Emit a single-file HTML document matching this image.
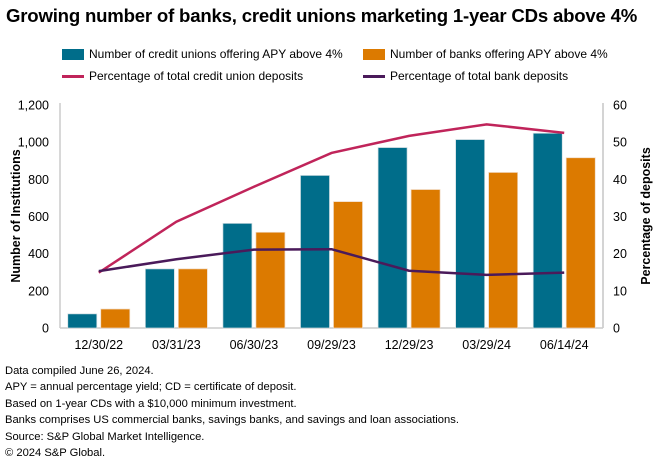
<!DOCTYPE html>
<html><head><meta charset="utf-8">
<style>
body{margin:0;background:#fff;font-family:"Liberation Sans",sans-serif;color:#000;}
#wrap{position:relative;width:660px;height:466px;overflow:hidden;}
.title{position:absolute;left:6px;top:5px;font-size:18.6px;font-weight:bold;letter-spacing:-0.2px;}
.leg{position:absolute;font-size:12px;display:flex;align-items:center;}
.sw{display:inline-block;width:22px;height:11px;margin-right:5px;}
.ln{display:inline-block;width:22px;height:3px;margin-right:5px;}
.notes{position:absolute;left:5px;top:363px;font-size:11.2px;line-height:16.4px;}
</style></head><body>
<div id="wrap">
<div class="title">Growing number of banks, credit unions marketing 1-year CDs above 4%</div>
<div class="leg" style="left:62px;top:47px"><span class="sw" style="background:#006d8a"></span>Number of credit unions offering APY above 4%</div>
<div class="leg" style="left:363px;top:47px"><span class="sw" style="background:#dc7a00"></span>Number of banks offering APY above 4%</div>
<div class="leg" style="left:62px;top:69px"><span class="ln" style="background:#c0245a"></span>Percentage of total credit union deposits</div>
<div class="leg" style="left:363px;top:69px"><span class="ln" style="background:#4a1a5a"></span>Percentage of total bank deposits</div>
<svg id="chart" width="660" height="466" style="position:absolute;left:0;top:0"></svg>
<div class="notes">Data compiled June 26, 2024.<br>APY = annual percentage yield; CD = certificate of deposit.<br>Based on 1-year CDs with a $10,000 minimum investment.<br>Banks comprises US commercial banks, savings banks, and savings and loan associations.<br>Source: S&amp;P Global Market Intelligence.<br>© 2024 S&amp;P Global.</div>
</div>
<script>
const categories=["12/30/22","03/31/23","06/30/23","09/29/23","12/29/23","03/29/24","06/14/24"];
const cuCounts=[76,318,563,821,971,1014,1048];
const bankCounts=[102,318,515,680,745,837,916];
const cuPct=[14.9,28.6,38,47.1,51.7,54.8,52.5];
const bankPct=[15.3,18.5,21.1,21.2,15.4,14.3,14.9];
const leftTicks=[0,200,400,600,800,1000,1200];
const rightTicks=[0,10,20,30,40,50,60];
const NS="http://www.w3.org/2000/svg";
const svg=document.getElementById('chart');
const X0=60,X1=603,Y0=328,Y1=105;
const gw=(X1-X0)/categories.length;
const yL=v=>Y0-(v/1200)*(Y0-Y1);
const yR=v=>Y0-(v/60)*(Y0-Y1);
const xc=i=>X0+gw*(i+0.5);
function mk(tag,attrs){const e=document.createElementNS(NS,tag);for(const k in attrs)e.setAttribute(k,attrs[k]);svg.appendChild(e);return e;}
let e;
e=mk('line',{x1:X0,y1:Y1-2,x2:X0,y2:Y0,stroke:'#ccc','stroke-width':1.5});


e=mk('line',{x1:X1,y1:Y1-2,x2:X1,y2:Y0,stroke:'#aaa','stroke-width':1});


e=mk('line',{x1:X0,y1:Y0,x2:X1,y2:Y0,stroke:'#ccc','stroke-width':1.5});


leftTicks.forEach(v=>{
 const t=mk('text',{x:49,y:yL(v)+4.5,'text-anchor':'end','font-size':'12.5'});t.textContent=v.toLocaleString('en-US');
 
 
});
rightTicks.forEach(v=>{
 const t=mk('text',{x:613,y:yR(v)+4.5,'font-size':'12.5'});t.textContent=v;
 
 
});
categories.forEach((c,i)=>{
 const t=mk('text',{x:xc(i),y:349,'text-anchor':'middle','font-size':'12.5'});t.textContent=c;
 
 
 const b1=mk('rect',{x:xc(i)-31,y:yL(cuCounts[i]),width:29,height:Y0-yL(cuCounts[i]),fill:'#006d8a',stroke:'#d0dde2','stroke-width':0.7});
 
 
 const b2=mk('rect',{x:xc(i)+2,y:yL(bankCounts[i]),width:29,height:Y0-yL(bankCounts[i]),fill:'#dc7a00',stroke:'#f0d8c0','stroke-width':0.7});
 
 
});
e=mk('polyline',{points:cuPct.map((v,i)=>xc(i)+','+yR(v)).join(' '),fill:'none',stroke:'#c0245a','stroke-width':2.5});


e=mk('polyline',{points:bankPct.map((v,i)=>xc(i)+','+yR(v)).join(' '),fill:'none',stroke:'#4a1a5a','stroke-width':2.5,'stroke-linejoin':'round'});


e=mk('text',{x:0,y:0,'font-size':'12.5','font-weight':'bold','text-anchor':'middle',transform:'translate(20,216) rotate(-90)'});
e.textContent='Number of Institutions';


e=mk('text',{x:0,y:0,'font-size':'12.5','font-weight':'bold','text-anchor':'middle',transform:'translate(650,216) rotate(-90)'});
e.textContent='Percentage of deposits';


</script>
</body></html>
